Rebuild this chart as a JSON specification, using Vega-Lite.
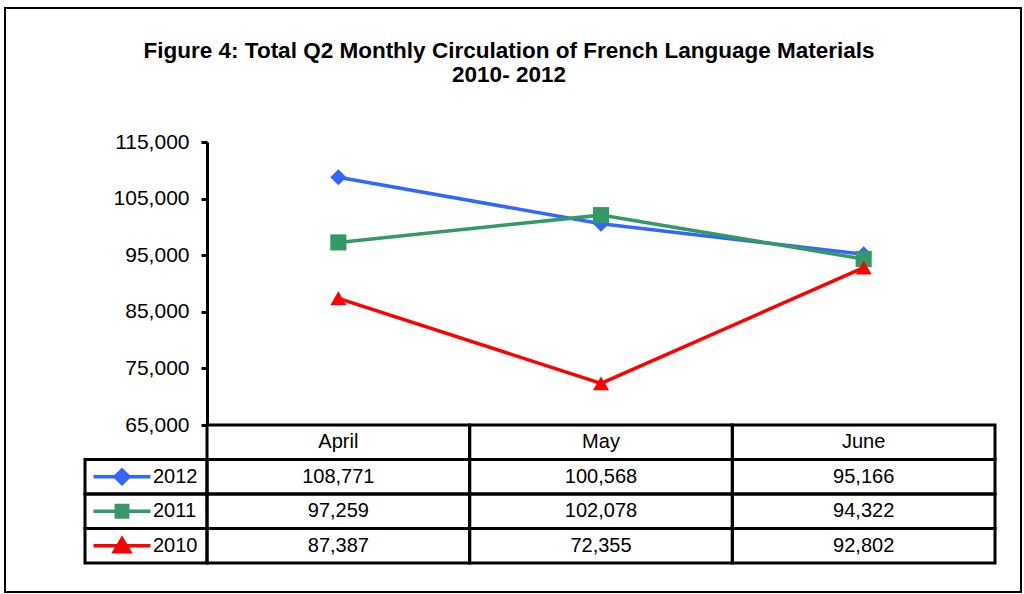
{
  "$schema": "https://vega.github.io/schema/vega-lite/v6.json",
  "width": 1016,
  "height": 584,
  "autosize": "none",
  "padding": {"left": 5, "top": 8, "right": 3, "bottom": 2},
  "background": "white",
  "config": {
    "view": {"stroke": "black", "strokeWidth": 2},
    "font": "Liberation Sans"
  },
  "title": {
    "text": ["Figure 4: Total Q2 Monthly Circulation of French Language Materials", "2010- 2012"],
    "font": "Liberation Sans",
    "fontSize": 22.5,
    "fontWeight": "bold",
    "color": "black",
    "anchor": "middle",
    "frame": "group",
    "offset": -78,
    "dx": -4,
    "lineHeight": 24
  },
  "datasets": {
    "series": [
      {"year": "2012", "month": "April", "value": 108771},
      {"year": "2012", "month": "May", "value": 100568},
      {"year": "2012", "month": "June", "value": 95166},
      {"year": "2011", "month": "April", "value": 97259},
      {"year": "2011", "month": "May", "value": 102078},
      {"year": "2011", "month": "June", "value": 94322},
      {"year": "2010", "month": "April", "value": 87387},
      {"year": "2010", "month": "May", "value": 72355},
      {"year": "2010", "month": "June", "value": 92802}
    ],
    "months": [
      {"month": "April", "row": "header"},
      {"month": "May", "row": "header"},
      {"month": "June", "row": "header"}
    ],
    "years": [
      {"year": "2012"},
      {"year": "2011"},
      {"year": "2010"}
    ]
  },
  "layer": [
    {
      "data": {"name": "series"},
      "encoding": {
        "x": {
          "field": "month", "type": "ordinal", "sort": null,
          "scale": {"type": "band", "domain": ["April", "May", "June"], "range": [202, 990], "paddingInner": 0, "paddingOuter": 0},
          "axis": null
        },
        "y": {
          "field": "value", "type": "quantitative",
          "scale": {"domain": [65000, 115000], "range": [417, 134], "zero": false, "nice": false},
          "axis": {
            "orient": "left", "offset": -202, "title": null, "grid": false,
            "values": [65000, 75000, 85000, 95000, 105000, 115000], "format": ",.0f",
            "domainColor": "black", "domainWidth": 3,
            "tickColor": "black", "tickWidth": 3, "tickSize": 6,
            "labelFont": "Liberation Sans", "labelFontSize": 21, "labelColor": "black", "labelPadding": 12,
            "labelOverlap": false, "labelFlush": false
          }
        },
        "color": {
          "field": "year", "type": "nominal",
          "scale": {"domain": ["2012", "2011", "2010"], "range": ["#3366FF", "#339966", "#FF0000"]},
          "legend": null
        }
      },
      "layer": [
        {"mark": {"type": "line", "strokeWidth": 3.5}},
        {
          "mark": {"type": "point", "filled": true, "size": 260, "opacity": 1},
          "encoding": {
            "shape": {
              "field": "year", "type": "nominal",
              "scale": {"domain": ["2012", "2011", "2010"], "range": ["diamond", "square", "triangle-up"]},
              "legend": null
            }
          }
        }
      ]
    },
    {
      "encoding": {
        "x": {
          "field": "month", "type": "ordinal", "sort": null,
          "scale": {"type": "band", "domain": ["April", "May", "June"], "range": [202, 990], "paddingInner": 0, "paddingOuter": 0},
          "axis": null
        }
      },
      "layer": [
        {
          "data": {"name": "months"},
          "encoding": {
            "y": {
              "field": "row", "type": "nominal",
              "scale": {"type": "band", "domain": ["header", "2012", "2011", "2010"], "range": [417, 555], "paddingInner": 0, "paddingOuter": 0},
              "axis": null
            }
          },
          "layer": [
            {"mark": {"type": "rect", "fillOpacity": 0, "stroke": "black", "strokeWidth": 3}},
            {
              "mark": {"type": "text", "font": "Liberation Sans", "fontSize": 20, "color": "black", "align": "center", "baseline": "middle"},
              "encoding": {"text": {"field": "month"}}
            }
          ]
        },
        {
          "data": {"name": "series"},
          "encoding": {
            "y": {
              "field": "year", "type": "nominal",
              "scale": {"type": "band", "domain": ["header", "2012", "2011", "2010"], "range": [417, 555], "paddingInner": 0, "paddingOuter": 0},
              "axis": null
            }
          },
          "layer": [
            {"mark": {"type": "rect", "fillOpacity": 0, "stroke": "black", "strokeWidth": 3}},
            {
              "mark": {"type": "text", "font": "Liberation Sans", "fontSize": 20, "color": "black", "align": "center", "baseline": "middle"},
              "encoding": {"text": {"field": "value", "type": "quantitative", "format": ",.0f"}}
            }
          ]
        }
      ]
    },
    {
      "data": {"name": "years"},
      "encoding": {
        "x": {
          "datum": "legend", "type": "nominal",
          "scale": {"type": "band", "domain": ["legend"], "range": [80, 202], "paddingInner": 0, "paddingOuter": 0},
          "axis": null
        },
        "y": {
          "field": "year", "type": "nominal",
          "scale": {"type": "band", "domain": ["header", "2012", "2011", "2010"], "range": [417, 555], "paddingInner": 0, "paddingOuter": 0},
          "axis": null
        }
      },
      "layer": [
        {"mark": {"type": "rect", "fillOpacity": 0, "stroke": "black", "strokeWidth": 3}},
        {
          "mark": {"type": "point", "filled": true, "size": 3249, "strokeWidth": 3.5, "opacity": 1, "xOffset": -24},
          "encoding": {
            "shape": {
              "field": "year", "type": "nominal",
              "scale": {
                "domain": ["2012", "2011", "2010"],
                "range": [
                  "M-1,0L1,0M0,-0.24L0.24,0L0,0.24L-0.24,0Z",
                  "M-1,0L1,0M-0.2,-0.2L0.2,-0.2L0.2,0.2L-0.2,0.2Z",
                  "M-1,0L1,0M0,-0.25L0.27,0.21L-0.27,0.21Z"
                ]
              },
              "legend": null
            },
            "fill": {
              "field": "year", "type": "nominal",
              "scale": {"domain": ["2012", "2011", "2010"], "range": ["#3366FF", "#339966", "#FF0000"]},
              "legend": null
            },
            "stroke": {
              "field": "year", "type": "nominal",
              "scale": {"domain": ["2012", "2011", "2010"], "range": ["#3366FF", "#339966", "#FF0000"]},
              "legend": null
            }
          }
        },
        {
          "mark": {"type": "text", "font": "Liberation Sans", "fontSize": 20, "color": "black", "align": "left", "baseline": "middle", "dx": 7},
          "encoding": {"text": {"field": "year"}}
        }
      ]
    }
  ],
  "resolve": {
    "scale": {"x": "independent", "y": "independent", "color": "independent", "shape": "independent", "fill": "independent", "stroke": "independent"}
  }
}
